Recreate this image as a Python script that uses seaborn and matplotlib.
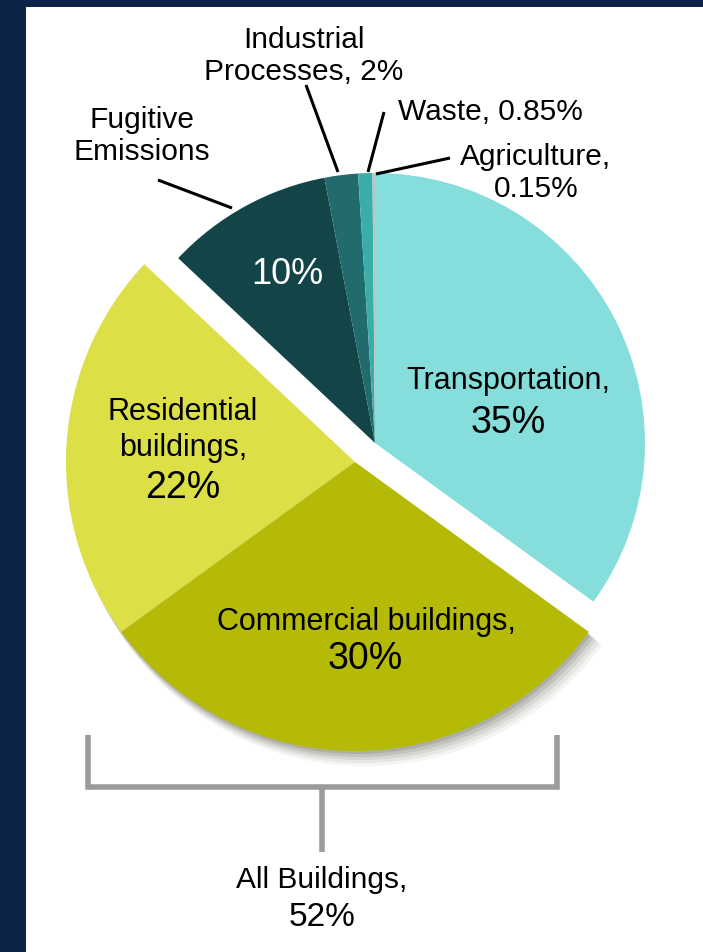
import matplotlib
matplotlib.use("Agg")
import matplotlib.pyplot as plt
import seaborn as sns
from matplotlib.patches import Rectangle

# Pie data (clockwise from 12 o'clock)
sectors = ['Transportation', 'Commercial buildings', 'Residential buildings',
           'Fugitive Emissions', 'Industrial Processes', 'Waste', 'Agriculture']
shares = [35, 30, 22, 10, 2, 0.85, 0.15]
colors = ['#86dedc', '#b4ba05', '#dce046', '#134548', '#216b6c', '#3aada9', '#b9c6c6']
buildings = ['Commercial buildings', 'Residential buildings']
buildings_total = 52

W, H = 703, 952


def Y(y):
    # image-style y (top down) -> axes y (bottom up)
    return H - y


sns.set_theme(style='white')
plt.rcParams['font.family'] = ['Liberation Sans', 'DejaVu Sans']

fig = plt.figure(figsize=(W / 100, H / 100), dpi=100)
fig.patch.set_facecolor('#0b2447')
ax = fig.add_axes([0, 0, 1, 1])
ax.set_facecolor('#0b2447')
ax.add_patch(Rectangle((26, 0), W - 26, H - 7, facecolor='white', edgecolor='none', zorder=0))

is_bld = [s in buildings for s in sectors]

# main (non-building) group
top_wedges, _ = ax.pie(shares, colors=colors, startangle=90, counterclock=False,
                       center=(375, Y(443)), radius=270,
                       wedgeprops=dict(linewidth=0))
for w, b in zip(top_wedges, is_bld):
    w.set_visible(not b)
    w.set_zorder(2)

# soft shadow under the exploded building group
for k, a in enumerate([0.16, 0.13, 0.10, 0.08, 0.06]):
    sh, _ = ax.pie(shares, colors=['#4a4a3a'] * len(shares), startangle=90, counterclock=False,
                   center=(355 + 2 + 2 * k, Y(462 + 3 + 2 * k)), radius=289 + k,
                   wedgeprops=dict(linewidth=0, alpha=a))
    for w, b in zip(sh, is_bld):
        w.set_visible(b)
        w.set_zorder(1)

# exploded building group
bld_wedges, _ = ax.pie(shares, colors=colors, startangle=90, counterclock=False,
                       center=(355, Y(462)), radius=289,
                       wedgeprops=dict(linewidth=0))
for w, b in zip(bld_wedges, is_bld):
    w.set_visible(b)
    w.set_zorder(3)

txt = dict(ha='center', va='center', color='black', zorder=5)

# labels inside
ax.text(508, Y(381), 'Transportation,', fontsize=22, **txt)
ax.text(508, Y(423), f'{shares[0]:g}%', fontsize=27, **txt)
ax.text(366, Y(622), 'Commercial buildings,', fontsize=22, **txt)
ax.text(365, Y(659), f'{shares[1]:g}%', fontsize=27, **txt)
ax.text(183, Y(412), 'Residential', fontsize=22, **txt)
ax.text(183, Y(448), 'buildings,', fontsize=22, **txt)
ax.text(183, Y(488), f'{shares[2]:g}%', fontsize=27, **txt)
ax.text(287, Y(275), f'{shares[3]:g}%', fontsize=26, ha='center', va='center',
        color='white', zorder=5)

# labels outside with leader lines
ax.text(142, Y(120), 'Fugitive', fontsize=21.5, **txt)
ax.text(142, Y(152), 'Emissions', fontsize=21.5, **txt)
ax.text(304, Y(40), 'Industrial', fontsize=21.5, **txt)
ax.text(304, Y(72), f'Processes, {shares[4]:g}%', fontsize=21.5, **txt)
ax.text(398, Y(112), f'Waste, {shares[5]:g}%', fontsize=21.5, ha='left', va='center',
        color='black', zorder=5)
ax.text(536, Y(157), 'Agriculture,', fontsize=21.5, **txt)
ax.text(536, Y(189), f'{shares[6]:g}%', fontsize=21.5, **txt)

lk = dict(color='black', lw=2.2, zorder=4, solid_capstyle='butt')
ax.plot([158, 232], [Y(180), Y(208)], **lk)
ax.plot([306, 338], [Y(85), Y(172)], **lk)
ax.plot([384, 368], [Y(112), Y(172)], **lk)
ax.plot([450, 376], [Y(158), Y(174)], **lk)

# bracket for all buildings
bk = dict(color='#9b9b9b', lw=4, zorder=4, solid_capstyle='butt', solid_joinstyle='miter')
ax.plot([88, 88, 557, 557], [Y(735), Y(787), Y(787), Y(735)], **bk)
ax.plot([322, 322], [Y(787), Y(852)], **bk)
ax.text(322, Y(880), 'All Buildings,', fontsize=21.5, **txt)
ax.text(322, Y(918), f'{buildings_total}%', fontsize=24, **txt)

ax.set_xlim(0, W)
ax.set_ylim(0, H)
ax.set_aspect('equal')
ax.axis('off')

fig.savefig('out.png', dpi=100, facecolor=fig.get_facecolor())
